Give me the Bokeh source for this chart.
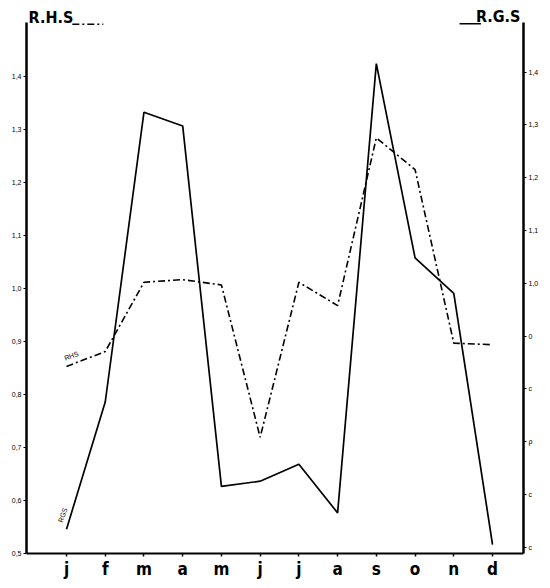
from bokeh.plotting import figure
from bokeh.models import Range1d, LinearAxis, FixedTicker, Label, Arrow, ColumnDataSource
from bokeh.embed import file_html
from bokeh.resources import INLINE

# ---- data -------------------------------------------------------------
months = ["j", "f", "m", "a", "m", "j", "j", "a", "s", "o", "n", "d"]
month_pos = list(range(12))
rhs = [0.853, 0.881, 1.012, 1.017, 1.007, 0.719, 1.012, 0.968, 1.285, 1.225, 0.897, 0.894]
rgs = [0.534, 0.775, 1.324, 1.298, 0.615, 0.625, 0.657, 0.565, 1.416, 1.048, 0.981, 0.505]
y_ticks = [0.5, 0.6, 0.7, 0.8, 0.9, 1.0, 1.1, 1.2, 1.3, 1.4]
left_labels = ["0,5", "0,6", "0,7", "0,8", "0,9", "1,0", "1,1", "1,2", "1,3", "1,4"]
right_labels = ["c", "c", "ρ", "c", "0", "1,0", "1,1", "1,2", "1,3", "1,4"]

FONT = "DejaVu Sans Condensed"
TICK_FONT = "Liberation Sans"
DASHDOT = "7 3 2 3"

src = ColumnDataSource(dict(x=month_pos, rhs=rhs, rgs=rgs))

# frame reaches near the top of the canvas so the headers sit inside it;
# the axis lines are limited with `bounds`
p = figure(width=548, height=586,
           x_range=Range1d(-1.033, 11.80), y_range=Range1d(0.4994, 1.537),
           output_backend="svg", toolbar_location=None,
           min_border_left=26, min_border_right=25, min_border_top=4, min_border_bottom=33,
           background_fill_color="white", border_fill_color="white")
p.extra_y_ranges = {"rgs": Range1d(0.488, 1.5281)}
p.outline_line_color = None
p.xgrid.visible = False
p.ygrid.visible = False

# bottom axis
xa = p.xaxis[0]
xa.ticker = FixedTicker(ticks=month_pos)
xa.major_label_overrides = {i: m for i, m in zip(month_pos, months)}
xa.major_label_text_font = FONT
xa.major_label_text_font_style = "bold"
xa.major_label_text_font_size = "17px"
xa.major_label_text_color = "black"
xa.major_label_standoff = 2
xa.major_tick_out = 3
xa.major_tick_in = 0
xa.minor_tick_line_color = None
xa.axis_line_width = 2
xa.major_tick_line_width = 1.5

# left axis
ya = p.yaxis[0]
ya.ticker = FixedTicker(ticks=y_ticks)
ya.bounds = (0.4994, 1.503)
ya.major_label_overrides = {t: s for t, s in zip(y_ticks, left_labels)}
ya.major_label_text_font = TICK_FONT
ya.major_label_text_font_size = "7px"
ya.major_label_text_color = "black"
ya.major_label_standoff = 2
ya.major_tick_out = 3
ya.major_tick_in = 0
ya.minor_tick_line_color = None
ya.axis_line_width = 2.5

# right axis (R.G.S)
ra = LinearAxis(y_range_name="rgs", ticker=FixedTicker(ticks=y_ticks), bounds=(0.488, 1.494))
ra.major_label_overrides = {t: s for t, s in zip(y_ticks, right_labels)}
ra.major_label_text_font = TICK_FONT
ra.major_label_text_font_size = "7px"
ra.major_label_text_color = "black"
ra.major_label_standoff = 2
ra.major_tick_out = 3
ra.major_tick_in = 0
ra.minor_tick_line_color = None
ra.axis_line_width = 2.5
p.add_layout(ra, "right")

# series
p.line("x", "rhs", source=src, line_color="black", line_width=1.6, line_dash=DASHDOT)
p.line("x", "rgs", source=src, line_color="black", line_width=1.7, y_range_name="rgs")

# in-chart series labels
p.add_layout(Label(x=-0.02, y=0.862, text="RHS", angle=0.36, text_font=TICK_FONT,
                   text_font_size="7px", text_baseline="bottom", text_color="black"))
p.add_layout(Label(x=-0.08, y=0.545, text="RGS", angle=1.22, text_font=TICK_FONT,
                   text_font_size="7px", text_baseline="bottom", text_color="black",
                   y_range_name="rgs"))

# headers
p.add_layout(Label(x=-0.98, y=1.5125, text="R.H.S", text_font=FONT, text_font_style="bold",
                   text_font_size="16px", text_baseline="alphabetic", text_color="black"))
p.add_layout(Arrow(x_start=0.15, y_start=1.4996, x_end=0.95, y_end=1.4996, end=None,
                   line_color="black", line_width=1.6, line_dash=DASHDOT))
p.add_layout(Label(x=11.72, y=1.5045, text="R.G.S", text_font=FONT, text_font_style="bold",
                   text_font_size="16px", text_align="right", text_baseline="alphabetic",
                   text_color="black", y_range_name="rgs"))
p.add_layout(Arrow(x_start=10.15, y_start=1.4915, x_end=10.70, y_end=1.4915, end=None,
                   line_color="black", line_width=1.6, y_range_name="rgs"))

open("out.html", "w").write(file_html(p, INLINE))
